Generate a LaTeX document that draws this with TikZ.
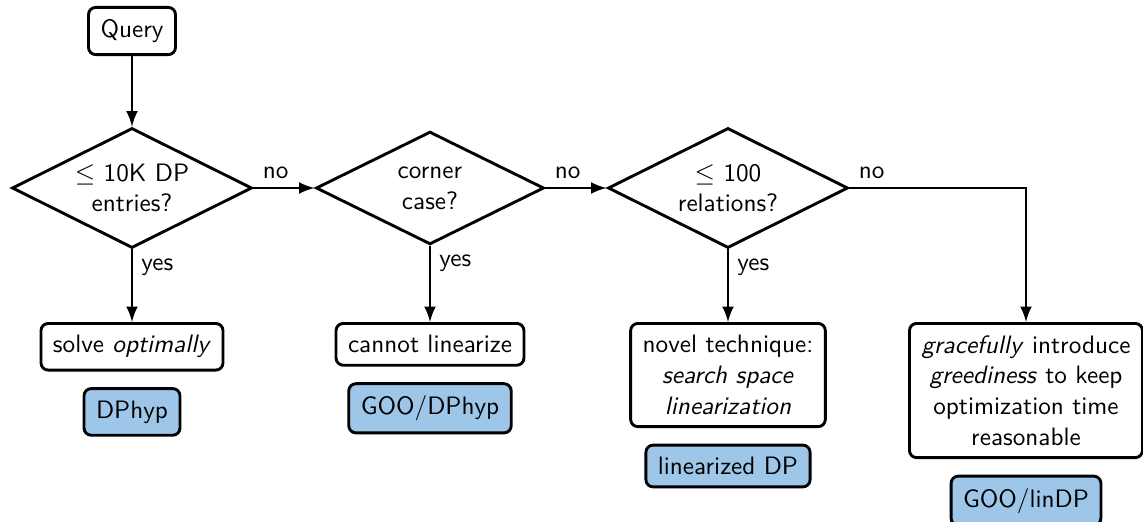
\documentclass[tikz,border=0pt]{standalone}
\usepackage{amsmath}
\usepackage{tikz}
\usetikzlibrary{positioning, shapes.geometric, arrows}
\renewcommand{\familydefault}{\sfdefault}
\definecolor{algoblue}{RGB}{157,198,232}

\begin{document}
\begin{tikzpicture}[
    x=0.41667pt, y=-0.41667pt,
    font=\fontsize{10.5pt}{12.8pt}\selectfont,
    decision/.style={draw, diamond, aspect=2, inner sep=1pt, align=center, minimum width=100pt, minimum height=50pt},
    process/.style={draw, rounded corners=3pt, inner sep=5pt, align=center},
    algo/.style={process, fill=algoblue},
    >=latex,
    line width=1.2pt
]
\useasboundingbox (0,0) rectangle (1143,522);

\node (query)  [process] at (132,31) {Query};

\node (dec1)   [decision] at (132,188) {$\leq$ 10K DP\\entries?};
\node (dec2)   [decision, minimum width=95pt, minimum height=47pt] at (430,188) {corner\\case?};
\node (dec3)   [decision] at (728,188) {$\leq$ 100\\relations?};

\node (optimal)  [process, anchor=north] at (132,322) {solve \emph{optimally}};
\node (nolin)    [process, anchor=north] at (430,322) {cannot linearize};
\node (linear)   [process, anchor=north] at (728,322) {novel technique:\\\emph{search space}\\\emph{linearization}};
\node (greedy)   [process, anchor=north] at (1026,322) {\emph{gracefully} introduce\\\emph{greediness} to keep\\optimization time\\reasonable};

\node (dphyp)    [algo, below=6.5pt of optimal] {DPhyp};
\node (goodphyp) [algo, below=6.5pt of nolin] {GOO/DPhyp};
\node (lindp)    [algo, below=6.5pt of linear] {linearized DP};
\node (goolindp) [algo, below=6.5pt of greedy] {GOO/linDP};

\draw[->] (query) -- (dec1);

\draw[->] (dec1) -- node[above right, pos=0] {no} (dec2);
\draw[->] (dec2) -- node[above right, pos=0] {no} (dec3);
\draw[->] (dec3.east) -| node[above right, pos=0] {no} (greedy.north);

\draw[->] (dec1) -- node[below right, pos=0] {yes} (optimal);
\draw[->] (dec2) -- node[below right, pos=0] {yes} (nolin);
\draw[->] (dec3) -- node[below right, pos=0] {yes} (linear);

\end{tikzpicture}
\end{document}
